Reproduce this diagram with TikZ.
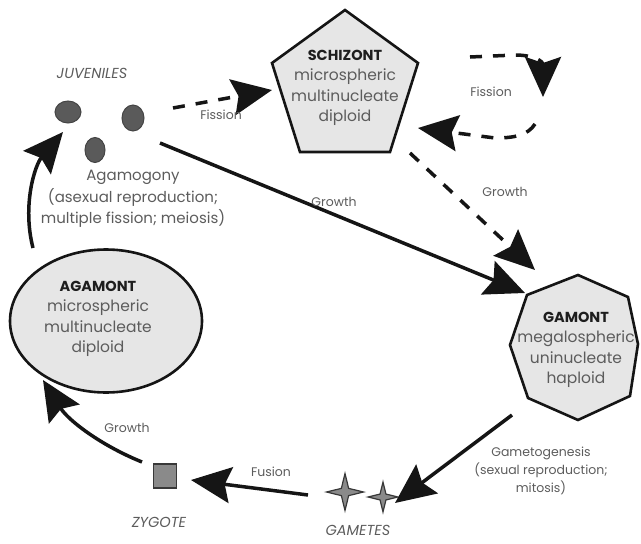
\documentclass[tikz,border=0pt]{standalone}
\usepackage{fontspec}
\setmainfont{Poppins}
\usetikzlibrary{arrows.meta,shapes.geometric,calc}
\definecolor{txtgray}{HTML}{5C5C5C}
\definecolor{titlec}{HTML}{1E1E1E}
\definecolor{lightfill}{HTML}{E6E6E6}
\definecolor{dotfill}{HTML}{5A5A5A}
\definecolor{midfill}{HTML}{8A8A8A}
\definecolor{edgec}{HTML}{151515}
\tikzset{
  cellshape/.style={draw=edgec, line width=2.6pt, fill=lightfill, line join=miter},
  celltext/.style={align=center, text=txtgray, inner sep=0pt, font=\fontsize{15.5}{20.5}\selectfont},
  lbl/.style={text=txtgray, inner sep=0pt, font=\fontsize{12.5}{14}\selectfont},
  bodylbl/.style={align=center, text=txtgray, inner sep=0pt, font=\fontsize{15}{21.5}\selectfont},
  smalllbl/.style={align=center, text=txtgray, inner sep=0pt, font=\fontsize{12.5}{18}\selectfont},
  stagelbl/.style={text=txtgray, inner sep=0pt, font=\itshape\fontsize{14.5}{16}\selectfont},
  bigtip/.style={-{Stealth[length=40pt,width=36pt,inset=6pt]}},
  solidarr/.style={bigtip, line width=3.5pt, draw=edgec},
  dasharr/.style={bigtip, line width=3.5pt, draw=edgec, dash pattern=on 12pt off 11pt},
  juvdot/.style={ellipse, draw=edgec!80, line width=1pt, fill=dotfill, inner sep=0pt},
  gamstar/.style={star, star points=4, star point ratio=3.6, draw=edgec!85, line width=1.2pt, fill=midfill, inner sep=0pt},
}
\newcommand{\ttl}[1]{{\bfseries\color{titlec}\fontsize{14.5}{20.5}\selectfont #1}}
\begin{document}
\begin{tikzpicture}[x=1pt,y=-1pt]
\useasboundingbox (0,0) rectangle (641,544);

% ---- SCHIZONT (pentagon)
\draw[cellshape] (345,10) -- (418,63) -- (390,152) -- (300,152) -- (272,63) -- cycle;
\node[celltext] (schizont) at (345,88) {\ttl{SCHIZONT}\\microspheric\\multinucleate\\diploid};

% ---- GAMONT (octagon)
\draw[cellshape] (578,275) -- (628,297) -- (638,344) -- (630,396) -- (578,420) -- (528,398) -- (510,345) -- (527,295) -- cycle;
\node[celltext] (gamont) at (576,350) {\ttl{GAMONT}\\megalospheric\\uninucleate\\haploid};

% ---- AGAMONT (ellipse)
\node[ellipse, cellshape, minimum width=192pt, minimum height=143pt, inner sep=0pt] (agamont) at (106,321) {};
\node[celltext] (agamonttext) at (98,319) {\ttl{AGAMONT}\\microspheric\\multinucleate\\diploid};

% ---- JUVENILES
\node[stagelbl] (juvlbl) at (92,73) {JUVENILES};
\node[juvdot, minimum width=26pt, minimum height=22pt] (juv1) at (68,112) {};
\node[juvdot, minimum width=22pt, minimum height=26pt] (juv2) at (133,118) {};
\node[juvdot, minimum width=20pt, minimum height=25pt] (juv3) at (95,150) {};
\node[bodylbl] (agamogony) at (133,199) {Agamogony\\(asexual reproduction;\\multiple fission; meiosis)};

% ---- GAMETES
\node[gamstar, minimum size=37pt] (star1) at (345,492) {};
\node[gamstar, minimum size=30pt] (star2) at (383,497) {};
\node[stagelbl] (gamlbl) at (358,530) {GAMETES};
\node[smalllbl] (gametogenesis) at (541,471) {Gametogenesis\\(sexual reproduction;\\mitosis)};

% ---- ZYGOTE
\node[draw=edgec!85, line width=1.2pt, fill=midfill, minimum width=23pt, minimum height=24pt, inner sep=0pt] (zygote) at (165,476) {};
\node[stagelbl] (zyglbl) at (159,522) {ZYGOTE};

% ---- connector end points
\coordinate (jA) at (173,108);  \coordinate (sA) at (272,90);
\coordinate (lA) at (470,57);   \coordinate (lB) at (515,55);  \coordinate (lC) at (543,97);
\coordinate (lD) at (535,124);  \coordinate (lE) at (495,138); \coordinate (sB) at (418,128);
\coordinate (sC) at (410,153);  \coordinate (gA) at (535,270);
\coordinate (jB) at (160,143);  \coordinate (gB) at (525,293);
\coordinate (gC) at (512,415);  \coordinate (tA) at (395,503);
\coordinate (tB) at (308,495);  \coordinate (zA) at (191,480);
\coordinate (zB) at (142,462);  \coordinate (aA) at (43,380);
\coordinate (aB) at (33,248);   \coordinate (jC) at (63,132);

% ---- connectors
\draw[dasharr] (jA) -- (sA);
\node[lbl] (fis1) at (221,115) {Fission};
\draw[dasharr] (lA) -- (lB) .. controls (535,55) and (543,62) .. (lC);
\draw[dasharr] (lD) .. controls (528,135) and (515,138) .. (lE) -- (sB);
\node[lbl] (fis2) at (491,92) {Fission};
\draw[dasharr] (sC) -- (gA);
\node[lbl] (gro1) at (505,192) {Growth};
\draw[solidarr] (jB) -- (gB);
\node[lbl] (gro2) at (334,202) {Growth};
\draw[solidarr] (gC) -- (tA);
\draw[solidarr] (tB) -- (zA);
\node[lbl] (fus) at (271,472) {Fusion};
\draw[solidarr] (zB) .. controls (100,445) and (68,420) .. (aA);
\node[lbl] (gro3) at (127,428) {Growth};
\draw[solidarr] (aB) .. controls (22,205) and (35,165) .. (jC);
\end{tikzpicture}
\end{document}
